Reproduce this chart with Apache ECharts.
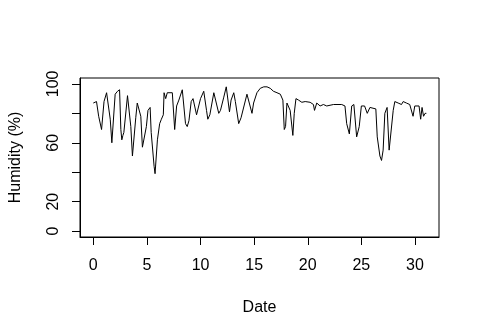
<!DOCTYPE html>
<html>
<head>
<meta charset="utf-8">
<script src="https://cdn.jsdelivr.net/npm/echarts@6/dist/echarts.min.js"></script>
<style>
html,body{margin:0;padding:0;background:#fff;}
#main{width:480px;height:335px;}
</style>
</head>
<body>
<div id="main"></div>
<script>
// Data
const days = [0,0.15,0.3,0.5,0.77,1.0,1.24,1.4,1.58,1.73,2.04,2.26,2.45,2.57,2.66,2.76,2.85,3.19,3.3,3.5,3.65,3.75,3.96,4.1,4.26,4.43,4.58,4.74,4.95,5.1,5.3,5.4,5.67,5.76,5.98,6.19,6.35,6.53,6.6,6.75,6.9,7.37,7.59,7.77,7.98,8.3,8.6,8.76,8.92,9.13,9.3,9.63,10.0,10.3,10.56,10.68,10.87,11.24,11.4,11.7,11.86,12.17,12.4,12.7,12.85,13.1,13.25,13.56,13.78,13.96,14.33,14.5,14.8,14.95,15.26,15.57,15.9,16.2,16.5,16.8,17.13,17.44,17.68,17.81,17.93,18.06,18.2,18.36,18.61,18.74,18.9,19.14,19.45,19.76,20.22,20.53,20.63,20.84,21.15,21.46,21.77,22.4,23.17,23.47,23.63,23.88,24.1,24.3,24.56,24.8,25.0,25.3,25.55,25.8,26.35,26.48,26.73,26.88,27.03,27.19,27.4,27.59,27.75,27.97,28.12,28.43,28.74,28.9,29.2,29.51,29.82,29.98,30.14,30.38,30.53,30.66,30.8,30.94,31.06];
const humidity = [87,86,88,78,69,88,94,94,76,60,93,95,96,69,62,65,67,92,92,71,51,51,77,87,87.5,78,57,56,71,82,84,67,44,39,62,73,76,79,94,90,94,94,69,85,89,96,73,71,75,88,90,79,90,95,82,76,79,94,95,80,82,91,98,81,89,94,88,73,77,76,93,94,80,87,94,97,98,98,97,95,94,93,89,69,71,87,87,82,65,80,90,89,87.5,88,87.5,86,82,87,85,86,85,86,86,85,73,66,85,86,64,71,85,85,80,84,83,64,51,48,55,80,84,55,55,82,88,87,86,88,87,86,78,85,85,85,76,84,78,80,80];
const xTicks = [0,5,10,15,20,25,30];
const yTicks = [0,20,40,60,80,100];
const yLabels = [0,20,60,100];

const chart = echarts.init(document.getElementById('main'), null, {renderer:'canvas'});
const font = 'Liberation Sans, Arial, sans-serif';
chart.setOption({
  animation:false,
  backgroundColor:'#fff',
  grid:{left:78,top:78,right:41,bottom:98,show:true,borderColor:'#000',borderWidth:1,backgroundColor:'transparent'},
  xAxis:{
    type:'value', min:-1.24, max:32.24, position:'bottom',
    name:'Date', nameLocation:'middle', nameGap:63,
    nameTextStyle:{fontFamily:font,fontSize:16,color:'#000'},
    axisLine:{show:true,onZero:false,lineStyle:{color:'#000',width:1}},
    axisTick:{show:true,inside:false,length:8,lineStyle:{color:'#000',width:1},customValues:xTicks},
    axisLabel:{fontFamily:font,fontSize:16,color:'#000',margin:21,customValues:xTicks},
    splitLine:{show:false}
  },
  yAxis:{
    type:'value', min:-4, max:104, position:'left',
    name:'Humidity (%)', nameLocation:'middle', nameGap:56, nameRotate:90,
    nameTextStyle:{fontFamily:font,fontSize:16,color:'#000'},
    axisLine:{show:true,onZero:false,lineStyle:{color:'#000',width:1}},
    axisTick:{show:true,inside:false,length:8,lineStyle:{color:'#000',width:1},customValues:yTicks},
    axisLabel:{fontFamily:font,fontSize:16,color:'#000',margin:18,rotate:90,customValues:yLabels},
    splitLine:{show:false}
  },
  series:[{
    type:'line',
    data:days.map((d,i)=>[d,humidity[i]]),
    showSymbol:false,
    lineStyle:{color:'#000',width:1},
    clip:true
  }]
});
</script>
</body>
</html>
